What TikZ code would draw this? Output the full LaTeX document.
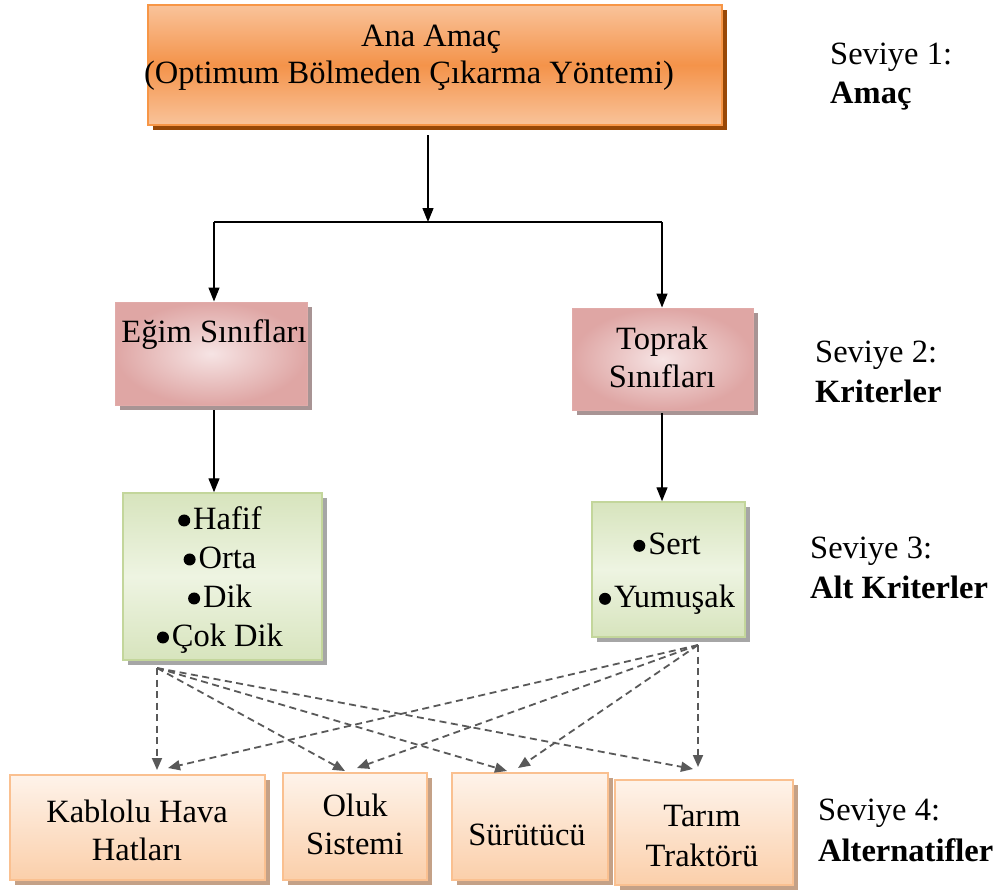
\documentclass[tikz,border=0pt]{standalone}
\usepackage{fontspec}
\setmainfont{Liberation Serif}
\usetikzlibrary{shadows,arrows.meta}
\definecolor{orgA}{HTML}{F4934A}
\definecolor{orgL}{HTML}{F9C39A}
\definecolor{orgB}{HTML}{F79646}
\definecolor{orgS}{HTML}{984807}
\definecolor{pinkD}{HTML}{D99694}
\definecolor{pinkL}{HTML}{F6E4E4}
\definecolor{pinkS}{HTML}{A89494}
\definecolor{grnL}{HTML}{EEF4E2}
\definecolor{grnD}{HTML}{D7E4BD}
\definecolor{grnB}{HTML}{C3D69B}
\definecolor{greyS}{HTML}{A6A6A6}
\definecolor{peachT}{HTML}{FEF3EA}
\definecolor{peachD}{HTML}{FBCFAA}
\definecolor{peachB}{HTML}{FAC090}
\definecolor{peachS}{HTML}{C4A187}
\definecolor{dashc}{HTML}{595959}
\newcommand\blt{\tikz[baseline=0pt]\fill[black] (0pt,9pt) circle[radius=6pt];\hspace{3pt}}
\begin{document}
\begin{tikzpicture}[x=1pt,y=-1pt,
  txt/.style={font=\fontsize{32.5}{#1}\selectfont, align=center, inner sep=0pt},
  txt/.default=40,
  lbl/.style={font=\fontsize{32.5}{40}\selectfont, inner sep=0pt, anchor=west},
  goalbox/.style={draw=orgB, line width=1.5pt, top color=orgL, bottom color=orgL, middle color=orgA,
    drop shadow={shadow xshift=5pt, shadow yshift=-5pt, fill=orgS, opacity=1}},
  critbox/.style={draw=pinkD!80, line width=1pt, shading=radial, inner color=pinkL, outer color=pinkD!85,
    drop shadow={shadow xshift=5pt, shadow yshift=-5pt, fill=pinkS, opacity=1}},
  subbox/.style={draw=grnB, line width=1.5pt, top color=grnD, bottom color=grnD, middle color=grnL,
    drop shadow={shadow xshift=5pt, shadow yshift=-5pt, fill=greyS, opacity=1}},
  altbox/.style={draw=peachB, line width=1.5pt, top color=peachT, bottom color=peachD,
    drop shadow={shadow xshift=5pt, shadow yshift=-5pt, fill=peachS, opacity=1}},
  arr/.style={line width=1.3pt, -{Triangle[length=14pt,width=11pt]}},
  darr/.style={line width=1.8pt, dashc, dash pattern=on 7pt off 4.5pt, -{Triangle[length=12pt,width=10pt]}}
]
\useasboundingbox (0,0) rectangle (995,895);

% boxes
\node[goalbox, minimum width=574, minimum height=120] (goal) at (435,65) {};
\node[critbox, minimum width=192, minimum height=103] (egim) at (211,353.5) {};
\node[critbox, minimum width=181, minimum height=102] (toprak) at (662.5,359) {};
\node[subbox, minimum width=199, minimum height=167] (subL) at (222.5,576.5) {};
\node[subbox, minimum width=153, minimum height=135] (subR) at (668.5,569.5) {};
\node[altbox, minimum width=255, minimum height=105] (a1) at (137.5,827.5) {};
\node[altbox, minimum width=144, minimum height=107] (a2) at (355,826.5) {};
\node[altbox, minimum width=156, minimum height=107] (a3) at (530,826.5) {};
\node[altbox, minimum width=178, minimum height=105] (a4) at (704,832.5) {};

% texts
\node[txt=37] (t1) at (409,58) {\hspace*{44pt}Ana Amaç\\(Optimum Bölmeden Çıkarma Yöntemi)};
\node[txt] (t3) at (214,335) {Eğim Sınıfları};
\node[txt=38] (t4) at (662,357) {Toprak\\Sınıfları};
\node[txt=39] (t6) at (220,580) {\blt Hafif\\\blt Orta\\\blt Dik\\\blt Çok Dik};
\node[txt=53] (t10) at (667,574) {\blt Sert\\\blt Yumuşak};
\node[txt=38] (t12) at (137,830) {Kablolu Hava\\Hatları};
\node[txt=38] (t14) at (355,824) {Oluk\\Sistemi};
\node[txt] (t16) at (527,835) {Sürütücü};
\node[txt=40] (t17) at (702,836) {Tarım\\Traktörü};

% level labels
\node[lbl] (s1) at (830,57) {Seviye 1:};
\node[lbl] (s1b) at (830,96) {\bfseries Amaç};
\node[lbl] (s2) at (815,355) {Seviye 2:};
\node[lbl] (s2b) at (815,391) {\bfseries Kriterler};
\node[lbl] (s3) at (810,551) {Seviye 3:};
\node[lbl] (s3b) at (810,587) {\bfseries Alt Kriterler};
\node[lbl] (s4) at (818,813) {Seviye 4:};
\node[lbl] (s4b) at (818,850) {\bfseries Alternatifler};

% solid connectors
\coordinate (gs) at (428,135);
\coordinate (j) at (428,222);
\coordinate (jl) at (214,222);
\coordinate (jr) at (662,222);
\draw[arr] (gs) -- (j);
\draw[line width=1.3pt] (jl) -- (jr);
\draw[arr] (jl) -- (jl |- egim.north);
\draw[arr] (jr) -- (jr |- toprak.north);
\coordinate (el) at (214,410);
\coordinate (tr) at (662,413);
\draw[arr] (el) -- (el |- subL.north);
\draw[arr] (tr) -- (tr |- subR.north);

% dashed connectors
\coordinate (L) at (157,668);
\coordinate (R) at (698,645);
\coordinate (a1l) at (157,770);
\coordinate (a1r) at (168,768);
\coordinate (a2l) at (345,771);
\coordinate (a2r) at (357,768);
\coordinate (a3l) at (507,771);
\coordinate (a3r) at (518,768);
\coordinate (a4l) at (693,769);
\coordinate (a4r) at (698,767);
\draw[darr] (L) -- (a1l);
\draw[darr] (L) -- (a2l);
\draw[darr] (L) -- (a3l);
\draw[darr] (L) -- (a4l);
\draw[darr] (R) -- (a1r);
\draw[darr] (R) -- (a2r);
\draw[darr] (R) -- (a3r);
\draw[darr] (R) -- (a4r);
\end{tikzpicture}
\end{document}
